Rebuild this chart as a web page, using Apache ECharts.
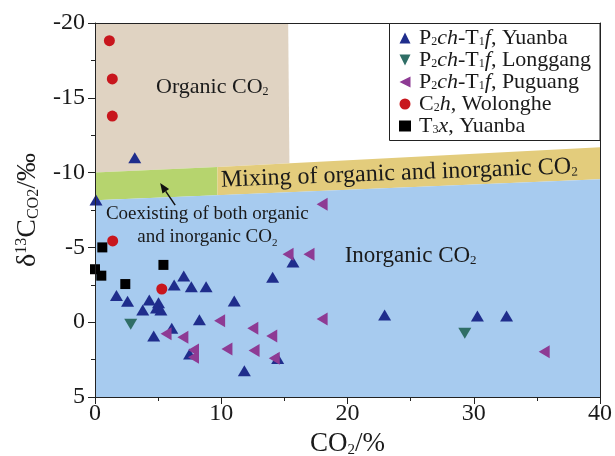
<!DOCTYPE html>
<html>
<head>
<meta charset="utf-8">
<script src="https://cdn.jsdelivr.net/npm/echarts@6/dist/echarts.min.js"></script>
<style>
  html, body { margin: 0; padding: 0; background: #fff; }
  #chart { width: 615px; height: 456px; }
</style>
</head>
<body>
<div id="chart"></div>
<script>
// δ13C of CO2 versus CO2 content, with genetic-type zones.

// Axis ranges and ticks
const xRange = [0, 40];
const xInterval = 10;
const yRange = [-20, 5];
const yInterval = 5;

// Sample groups: [CO2 %, δ13C ‰]
const yuanbaP2 = [
  [3.15, -11.0], [0.08, -8.17], [7.03, -3.09], [6.27, -2.49], [7.63, -2.37],
  [8.8, -2.37], [1.7, -1.78], [2.58, -1.4], [4.3, -1.48], [3.78, -0.81],
  [5.03, -1.3], [4.87, -0.95], [5.22, -0.81], [11.03, -1.42], [8.27, -0.17],
  [14.07, -3.0], [15.68, -4.02], [6.08, 0.41], [4.65, 0.92], [7.49, 2.13],
  [11.83, 3.24], [14.47, 2.43], [22.94, -0.48], [30.29, -0.41], [32.6, -0.41]
];
const longgangP2 = [[2.83, 0.14], [29.29, 0.74]];
const puguangP2 = [
  [17.99, -7.88], [15.29, -4.54], [16.95, -4.54], [9.87, -0.1], [17.99, -0.21],
  [12.5, 0.41], [14.0, 0.92], [5.63, 0.77], [6.96, 1.01], [7.8, 1.86],
  [7.8, 2.35], [10.45, 1.79], [12.6, 1.9], [14.2, 2.41], [35.58, 1.97]
];
const wolongheC2 = [[1.14, -18.82], [1.37, -16.26], [1.37, -13.78], [1.4, -5.43], [5.29, -2.22]];
const yuanbaT3 = [[0.58, -5.0], [0.0, -3.54], [0.5, -3.11], [2.4, -2.55], [5.42, -3.83]];

// Zone outlines in data units
const organicZone = [[0, -20], [15.3, -20], [15.4, -10.62], [9.7, -10.37], [0, -10]];
const coexistZone = [[0, -10], [9.7, -10.37], [9.7, -8.49], [0, -8.15]];
const mixingZone = [[9.7, -10.37], [40, -11.7], [40, -9.55], [9.7, -8.49]];
const inorganicZone = [[0, -8.15], [40, -9.55], [40, 5], [0, 5]];

// Annotation anchors in data units
const organicLabelAt = [9.29, -15.72];
const mixingLabelAt = [24.1, -9.94];
const inorganicLabelAt = [25.0, -4.44];
const coexistLabelAt = [8.9, -6.46];
const arrowFrom = [6.35, -7.83];
const arrowTo = [5.16, -9.3];

const FONT = "'Liberation Serif', 'Times New Roman', serif";
const INK = '#1a1a1a';

const zones = [
  { pts: organicZone, color: '#e0d3c2' },
  { pts: coexistZone, color: '#b6d46e' },
  { pts: mixingZone, color: '#e3cc7c' },
  { pts: inorganicZone, color: '#a7cbef' }
];

function richSet(size) {
  return {
    n: { fontSize: size, fontFamily: FONT, fill: INK, lineHeight: size },
    s: { fontSize: Math.round(size * 0.55), fontFamily: FONT, fill: INK, lineHeight: 6, verticalAlign: 'bottom' }
  };
}

// Legend icons: up, down and left-pointing triangles
const ICON_UP = 'path://M5,0 L10,10 L0,10 Z';
const ICON_DOWN = 'path://M0,0 L10,0 L5,10 Z';
const ICON_LEFT = 'path://M0,5 L10,0 L10,10 Z';

const legendLabels = {
  'P2ch-T1f, Yuanba': '{n|P}{s|2}{i|ch}{n|-T}{s|1}{i|f}{n|, Yuanba}',
  'P2ch-T1f, Longgang': '{n|P}{s|2}{i|ch}{n|-T}{s|1}{i|f}{n|, Longgang}',
  'P2ch-T1f, Puguang': '{n|P}{s|2}{i|ch}{n|-T}{s|1}{i|f}{n|, Puguang}',
  'C2h, Wolonghe': '{n|C}{s|2}{i|h}{n|, Wolonghe}',
  'T3x, Yuanba': '{n|T}{s|3}{i|x}{n|, Yuanba}'
};

const chart = echarts.init(document.getElementById('chart'), null, { renderer: 'canvas' });

const axisText = { fontFamily: FONT, fontSize: 24, color: INK };

const option = {
  animation: false,
  backgroundColor: '#fff',
  grid: { left: 95, right: 15, top: 23, bottom: 59, containLabel: false, outerBoundsMode: 'none' },
  legend: {
    orient: 'vertical',
    left: 399,
    top: 27,
    padding: 0,
    itemGap: 0,
    itemWidth: 12,
    itemHeight: 11,
    selectedMode: false,
    formatter: name => legendLabels[name] || name,
    textStyle: {
      padding: [0, 0, 0, 3],
      lineHeight: 20,
      fontSize: 20,
      rich: {
        n: { fontSize: 22, fontFamily: FONT, color: INK, lineHeight: 20 },
        i: { fontSize: 22, fontFamily: FONT, color: INK, fontStyle: 'italic', lineHeight: 20 },
        s: { fontSize: 12, fontFamily: FONT, color: INK, lineHeight: 6, verticalAlign: 'bottom' }
      }
    },
    data: [
      { name: 'P2ch-T1f, Yuanba', icon: ICON_UP },
      { name: 'P2ch-T1f, Longgang', icon: ICON_DOWN },
      { name: 'P2ch-T1f, Puguang', icon: ICON_LEFT },
      { name: 'C2h, Wolonghe', icon: 'circle' },
      { name: 'T3x, Yuanba', icon: 'rect' }
    ],
    z: 12
  },
  graphic: [{
    type: 'rect',
    shape: { x: 389.5, y: 23.5, width: 210.5, height: 117 },
    style: { fill: '#fff', stroke: '#222', lineWidth: 1 },
    z: 10
  }],
  xAxis: [{
    type: 'value',
    min: xRange[0], max: xRange[1], interval: xInterval,
    name: '{n|CO}{s|2}{n|/%}',
    nameLocation: 'middle',
    nameGap: 28,
    nameTextStyle: {
      rich: {
        n: { fontSize: 27, fontFamily: FONT, color: INK, lineHeight: 27 },
        s: { fontSize: 15, fontFamily: FONT, color: INK, lineHeight: 6, verticalAlign: 'bottom' }
      }
    },
    axisLine: { show: true, onZero: false, lineStyle: { color: '#222', width: 1 } },
    axisTick: { show: true, inside: false, length: 7, lineStyle: { color: '#222' } },
    minorTick: { show: true, splitNumber: 2, length: 4, lineStyle: { color: '#222' } },
    axisLabel: Object.assign({ margin: 5 }, axisText),
    splitLine: { show: false },
    z: 6
  }, {
    type: 'value', position: 'top',
    min: xRange[0], max: xRange[1],
    axisLine: { show: true, onZero: false, lineStyle: { color: '#222', width: 1 } },
    axisTick: { show: false }, axisLabel: { show: false }, splitLine: { show: false },
    z: 6
  }],
  yAxis: [{
    type: 'value',
    inverse: true,
    min: yRange[0], max: yRange[1], interval: yInterval,
    name: '{n|δ}{p|13}{n|C}{s|CO2}{n|/‰}',
    nameLocation: 'middle',
    nameRotate: 90,
    nameGap: 50,
    nameTextStyle: {
      rich: {
        n: { fontSize: 28, fontFamily: FONT, color: INK, lineHeight: 28 },
        p: { fontSize: 16, fontFamily: FONT, color: INK, lineHeight: 12, verticalAlign: 'top' },
        s: { fontSize: 16, fontFamily: FONT, color: INK, lineHeight: 6, verticalAlign: 'bottom' }
      }
    },
    axisLine: { show: true, onZero: false, lineStyle: { color: '#222', width: 1 } },
    axisTick: { show: true, inside: false, length: 7, lineStyle: { color: '#222' } },
    minorTick: { show: true, splitNumber: 2, length: 4, lineStyle: { color: '#222' } },
    axisLabel: Object.assign({ margin: 10 }, axisText),
    splitLine: { show: false },
    z: 6
  }, {
    type: 'value', position: 'right', inverse: true,
    min: yRange[0], max: yRange[1],
    axisLine: { show: true, onZero: false, lineStyle: { color: '#222', width: 1 } },
    axisTick: { show: false }, axisLabel: { show: false }, splitLine: { show: false },
    z: 6
  }],
  series: [
    {
      name: 'zones',
      type: 'custom',
      silent: true,
      z: 1,
      data: zones.map(() => [0, 0]),
      renderItem: (params, api) => {
        const zone = zones[params.dataIndex];
        return {
          type: 'polygon',
          shape: { points: zone.pts.map(p => api.coord(p)) },
          style: { fill: zone.color }
        };
      }
    },
    {
      name: 'annotations',
      type: 'custom',
      silent: true,
      z: 3,
      data: [[0, 0]],
      renderItem: (params, api) => {
        const o = api.coord(organicLabelAt);
        const m = api.coord(mixingLabelAt);
        const inorg = api.coord(inorganicLabelAt);
        const c = api.coord(coexistLabelAt);
        const a0 = api.coord(arrowFrom);
        const a1 = api.coord(arrowTo);
        const ang = Math.atan2(a1[1] - a0[1], a1[0] - a0[0]);
        const hl = 10, hw = 4;
        const bx = a1[0] - hl * Math.cos(ang), by = a1[1] - hl * Math.sin(ang);
        const head = [
          a1,
          [bx + hw * Math.sin(ang), by - hw * Math.cos(ang)],
          [bx - hw * Math.sin(ang), by + hw * Math.cos(ang)]
        ];
        return {
          type: 'group',
          children: [
            {
              type: 'text', x: o[0], y: o[1],
              style: { text: '{n|Organic CO}{s|2}', rich: richSet(22), align: 'center', verticalAlign: 'middle' }
            },
            {
              type: 'text', x: m[0], y: m[1], rotation: 2.2 * Math.PI / 180,
              style: { text: '{n|Mixing of organic and inorganic CO}{s|2}', rich: richSet(24), align: 'center', verticalAlign: 'middle' }
            },
            {
              type: 'text', x: inorg[0], y: inorg[1],
              style: { text: '{n|Inorganic CO}{s|2}', rich: richSet(23), align: 'center', verticalAlign: 'middle' }
            },
            {
              type: 'text', x: c[0], y: c[1],
              style: {
                text: '{n|Coexisting of both organic}\n{n|and inorganic CO}{s|2}',
                rich: {
                  n: { fontSize: 19, fontFamily: FONT, fill: INK, lineHeight: 23 },
                  s: { fontSize: 11, fontFamily: FONT, fill: INK, lineHeight: 8, verticalAlign: 'bottom' }
                },
                align: 'center', verticalAlign: 'middle'
              }
            },
            {
              type: 'line',
              shape: { x1: a0[0], y1: a0[1], x2: bx, y2: by },
              style: { stroke: '#111', lineWidth: 1.5 }
            },
            {
              type: 'polygon',
              shape: { points: head },
              style: { fill: '#111' }
            }
          ]
        };
      }
    },
    {
      name: 'P2ch-T1f, Yuanba', type: 'scatter', z: 5,
      symbol: 'triangle', symbolSize: [13, 11],
      itemStyle: { color: '#1f2d8c', opacity: 1 },
      data: yuanbaP2
    },
    {
      name: 'P2ch-T1f, Longgang', type: 'scatter', z: 5,
      symbol: 'triangle', symbolSize: [13, 11], symbolRotate: 180,
      itemStyle: { color: '#2f6e66', opacity: 1 },
      data: longgangP2
    },
    {
      name: 'P2ch-T1f, Puguang', type: 'scatter', z: 5,
      symbol: 'triangle', symbolSize: [13, 11], symbolRotate: 90,
      itemStyle: { color: '#8e3b94', opacity: 1 },
      data: puguangP2
    },
    {
      name: 'C2h, Wolonghe', type: 'scatter', z: 5,
      symbol: 'circle', symbolSize: 11,
      itemStyle: { color: '#c8161d', opacity: 1 },
      data: wolongheC2
    },
    {
      name: 'T3x, Yuanba', type: 'scatter', z: 5,
      symbol: 'rect', symbolSize: 10,
      itemStyle: { color: '#000', opacity: 1 },
      data: yuanbaT3
    }
  ]
};

chart.setOption(option);
</script>
</body>
</html>
